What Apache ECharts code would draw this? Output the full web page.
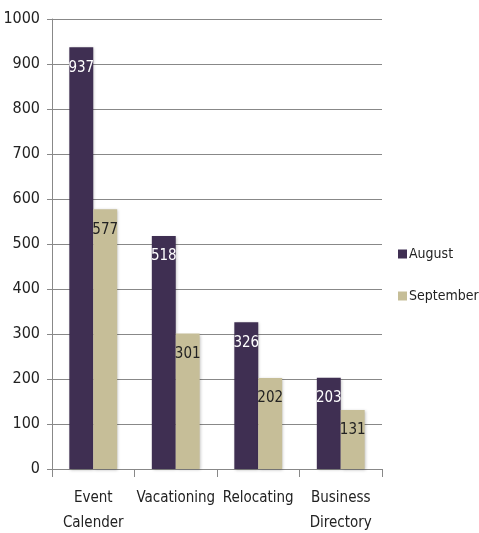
<!DOCTYPE html>
<html><head><meta charset="utf-8">
<script src="https://cdn.jsdelivr.net/npm/echarts@6/dist/echarts.min.js"></script>
<style>html,body{margin:0;padding:0;background:#fff}#c{width:479px;height:533px}</style>
</head><body><div id="c"></div>
<script>
const categories = ['Event\nCalender', 'Vacationing', 'Relocating', 'Business\nDirectory'];
const august = [937, 518, 326, 203];
const september = [577, 301, 202, 131];
const yTicks = [0, 100, 200, 300, 400, 500, 600, 700, 800, 900, 1000];
const FONT = "'DejaVu Sans Condensed', 'Liberation Sans Narrow', sans-serif";
const chart = echarts.init(document.getElementById('c'));
chart.setOption({
  animation: false,
  backgroundColor: '#fff',
  grid: { left: 52, right: 97, top: 19, bottom: 64, outerBoundsMode: 'none', containLabel: false },
  legend: {
    orient: 'vertical', left: 398, top: 247, itemGap: 28, padding: 0,
    itemWidth: 9, itemHeight: 9, icon: 'rect',
    textStyle: { fontFamily: FONT, fontSize: 14, color: '#222', padding: [0, 0, 0, -3] },
    data: ['August', 'September']
  },
  xAxis: {
    type: 'category', data: categories,
    axisLine: { lineStyle: { color: '#888' } },
    axisTick: { show: true, length: 8, lineStyle: { color: '#888' } },
    axisLabel: { interval: 0, fontFamily: FONT, fontSize: 15, color: '#222', margin: 17, lineHeight: 25 }
  },
  yAxis: {
    type: 'value', min: yTicks[0], max: yTicks[yTicks.length - 1], interval: 100,
    axisLine: { show: true, lineStyle: { color: '#888' } },
    axisTick: { show: true, length: 5, lineStyle: { color: '#888' } },
    splitLine: { lineStyle: { color: '#888' } },
    axisLabel: { fontFamily: FONT, fontSize: 16, color: '#222', margin: 12, formatter: v => String(v) }
  },
  series: [
    { name: 'August', type: 'bar', data: august, barGap: '0%', barCategoryGap: '42%',
      itemStyle: { color: '#3f2f52', shadowColor: 'rgba(0,0,0,0.25)', shadowBlur: 3, shadowOffsetX: 1, shadowOffsetY: 1 },
      label: { show: true, position: 'insideTop', distance: 13, fontFamily: FONT, fontSize: 15, color: '#fff' } },
    { name: 'September', type: 'bar', data: september,
      itemStyle: { color: '#c6be98', shadowColor: 'rgba(0,0,0,0.25)', shadowBlur: 3, shadowOffsetX: 1, shadowOffsetY: 1 },
      label: { show: true, position: 'insideTop', distance: 13, fontFamily: FONT, fontSize: 15, color: '#222' } }
  ]
});
</script></body></html>
